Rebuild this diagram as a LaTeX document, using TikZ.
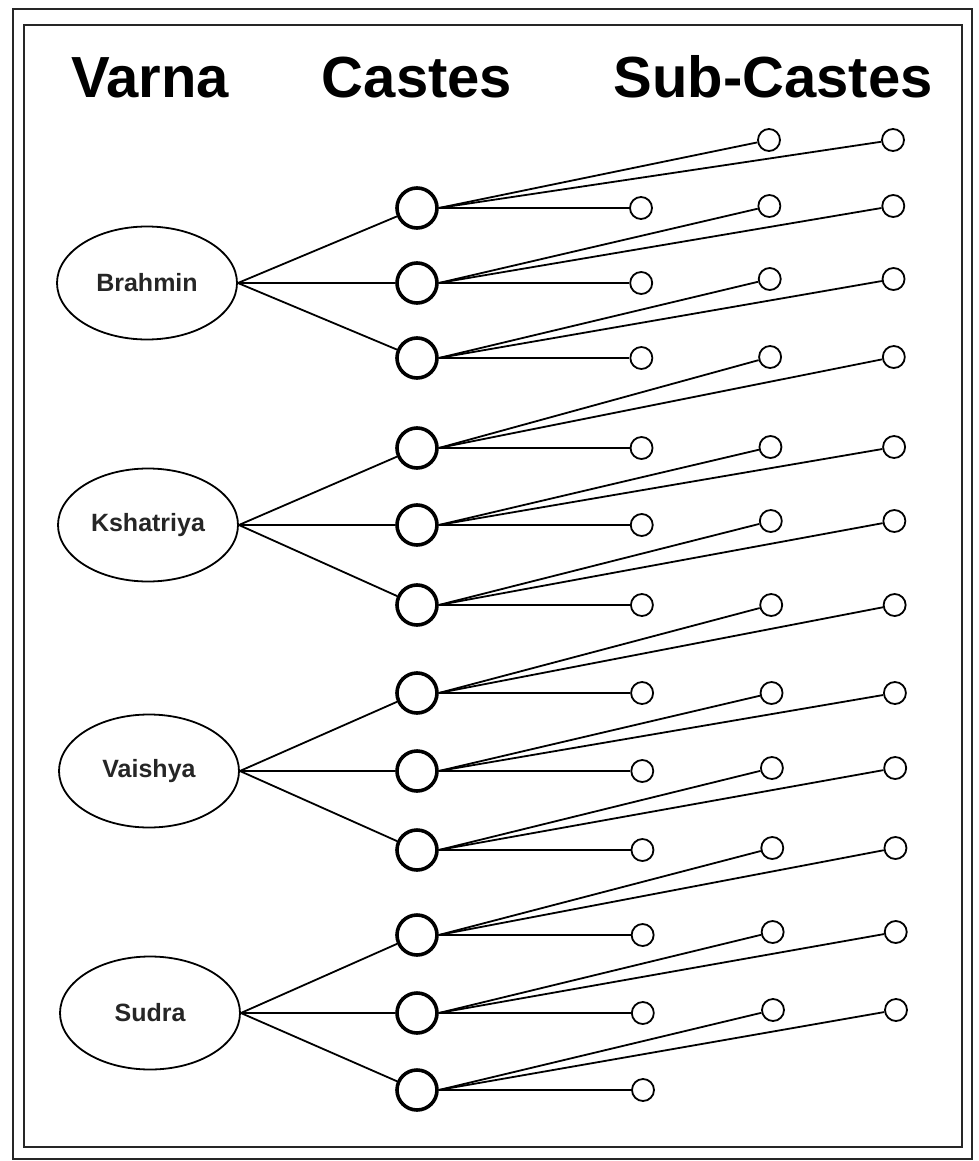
\documentclass[tikz,border=0pt]{standalone}
\usepackage{fontspec}
\setmainfont{Liberation Sans}
\usetikzlibrary{shapes.geometric}
\begin{document}
\begin{tikzpicture}[x=1pt,y=-1pt,
  frame/.style={draw=black!85,line width=2.2pt},
  heading/.style={font=\fontsize{58}{60}\selectfont\bfseries,anchor=base,inner sep=0pt},
  varna/.style={draw,ellipse,line width=1.8pt,minimum width=180pt,minimum height=113pt,inner sep=0pt,
    font=\fontsize{25}{28}\selectfont\bfseries,text=black!85},
  caste/.style={draw,circle,line width=3.6pt,minimum size=40pt,inner sep=0pt},
  sub/.style={draw,circle,line width=1.8pt,minimum size=22pt,inner sep=0pt},
  link/.style={line width=1.8pt}]
\useasboundingbox (0,0) rectangle (978,1161);
% double frame
\draw[frame] (13,9) rectangle (972,1159);
\draw[frame] (24,25) rectangle (962,1147);

% column headings
\node[heading] (hv) at (150,98) {Varna};
\node[heading] (hc) at (417,98) {Castes};
\node[heading] (hs) at (773,98) {Sub-Castes};

% varnas
\node[varna] (v1) at (147,283) {Brahmin};
\node[varna] (v2) at (148,525) {Kshatriya};
\node[varna] (v3) at (149,771) {Vaishya};
\node[varna] (v4) at (150,1013) {Sudra};

% castes, and the sub-castes reached from each caste
\foreach \i/\yc/\yu [count=\k] in {1/208/140, 2/283/206, 3/358/279, 4/448/357, 5/525/447, 6/605/521,
                      7/693/605, 8/771/693, 9/850/768, 10/935/848, 11/1013/932, 12/1090/1010} {
  \pgfmathsetmacro{\xa}{641+2*(\i-1)/11}
  \pgfmathsetmacro{\xb}{769+4*(\i-1)/11}
  \pgfmathsetmacro{\xc}{893+3*(\i-1)/11}
  \node[caste] (c\i) at (417,\yc) {};
  \node[sub] (a\i) at (\xa,\yc) {};
  \node[sub] (b\i) at (\xb,\yu) {};
  \node[sub] (d\i) at (\xc,\yu) {};
  \draw[link] (c\i.east) -- (a\i);
  \draw[link] (c\i.east) -- (b\i);
  \draw[link] (c\i.east) -- (d\i);
}

% varna to caste links
\foreach \v/\a/\b/\c in {1/1/2/3, 2/4/5/6, 3/7/8/9, 4/10/11/12} {
  \draw[link] (v\v.east) -- (c\a);
  \draw[link] (v\v.east) -- (c\b);
  \draw[link] (v\v.east) -- (c\c);
}
\end{tikzpicture}
\end{document}
